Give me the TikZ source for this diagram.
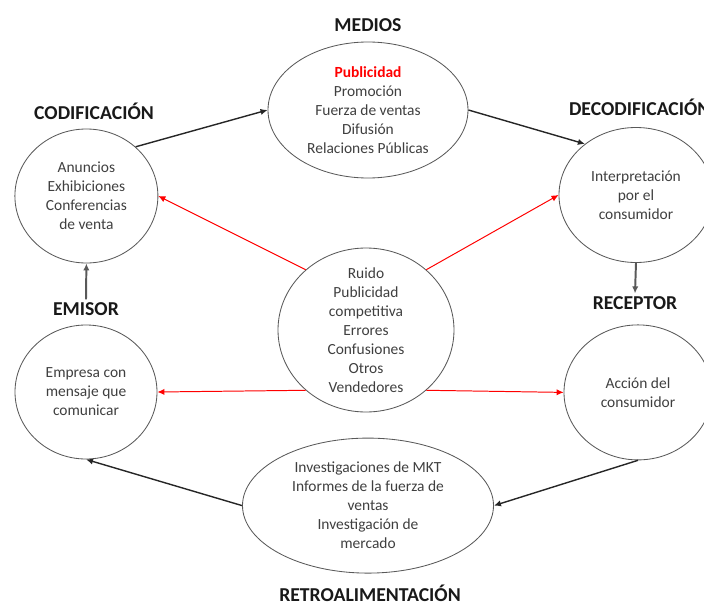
\documentclass[tikz,border=0pt]{standalone}
\usepackage{fontspec}
\setmainfont{Carlito}
\usepackage{xcolor}
\usetikzlibrary{arrows.meta,shapes.geometric}
\definecolor{txtGray}{HTML}{3F3F3F}
\definecolor{noiseRed}{HTML}{FF0000}

\begin{document}
\begin{tikzpicture}[
  bub/.style={draw, gray!70!black, ellipse, inner sep=0pt, line width=0.6pt},
  txt/.style={txtGray, align=center, font=\fontsize{11}{13.5}\selectfont},
  ttl/.style={font=\fontsize{14}{16}\selectfont\bfseries, text=black!90, inner sep=2pt},
  flow/.style={-{Latex[length=5pt,width=4.5pt]}, black!85, line width=1pt},
  noise/.style={-{Latex[length=5pt,width=4.5pt]}, noiseRed, line width=0.7pt}]
\useasboundingbox (0,0) rectangle (17.6,-15.125);
\node[bub, minimum width=5cm, minimum height=3.4cm] (med) at (9.2,-2.75) {};
\node[txt] (medx) at (med) {\textcolor{noiseRed}{\bfseries Publicidad}\\Promoción\\Fuerza de ventas\\Difusión\\Relaciones Públicas};
\node[ttl] (medt) at (9.2,-0.625) {MEDIOS};
\node[bub, minimum width=3.575cm, minimum height=3.35cm] (cod) at (2.16,-4.9) {};
\node[txt] (codx) at (cod) {Anuncios\\Exhibiciones\\Conferencias\\de venta};
\node[ttl] (codt) at (2.35,-2.775) {CODIFICACIÓN};
\node[bub, minimum width=3.85cm, minimum height=3.375cm] (dec) at (15.9,-4.875) {};
\node[txt] (decx) at (dec) {Interpretación\\por el\\consumidor};
\node[ttl, anchor=west] (dect) at (14.15,-2.675) {DECODIFICACIÓN};
\node[bub, minimum width=3.7cm, minimum height=3.375cm] (rec) at (15.95,-9.81) {};
\node[txt] (recx) at (rec) {Acción del\\consumidor};
\node[ttl] (rect) at (15.875,-7.575) {RECEPTOR};
\node[bub, minimum width=3.55cm, minimum height=3.35cm] (emi) at (2.15,-9.8) {};
\node[txt] (emix) at (emi) {Empresa con\\mensaje que\\comunicar};
\node[ttl] (emit) at (2.15,-7.725) {EMISOR};
\node[bub, minimum width=4.4cm, minimum height=4.1cm] (rui) at (9.15,-8.25) {};
\node[txt] (ruix) at (rui) {Ruido\\Publicidad\\competitiva\\Errores\\Confusiones\\Otros\\Vendedores};
\node[bub, minimum width=6.275cm, minimum height=3.375cm] (ret) at (9.2,-12.64) {};
\node[txt] (retx) at (ret) {Investigaciones de MKT\\Informes de la fuerza de\\ventas\\Investigación de\\mercado};
\node[ttl] (rett) at (9.25,-14.82) {RETROALIMENTACIÓN};
% ciclo
\draw[flow] (cod.45) -- (med.west);
\draw[flow] (med.east) -- (dec.135);
\draw[flow, gray!70!black, line width=1.4pt] (dec.south) -- (rect.north);
\draw[flow] (rec.south) -- (ret.east);
\draw[flow] (ret.west) -- (emi.south);
\draw[flow, gray!70!black, line width=1.4pt] (emit.north) -- (cod.south);
% ruido
\draw[noise] (rui.135) -- (cod.east);
\draw[noise] (rui.45) -- (dec.west);
\draw[noise] (rui.225) -- (emi.east);
\draw[noise] (rui.-45) -- (rec.west);
\end{tikzpicture}
\end{document}
